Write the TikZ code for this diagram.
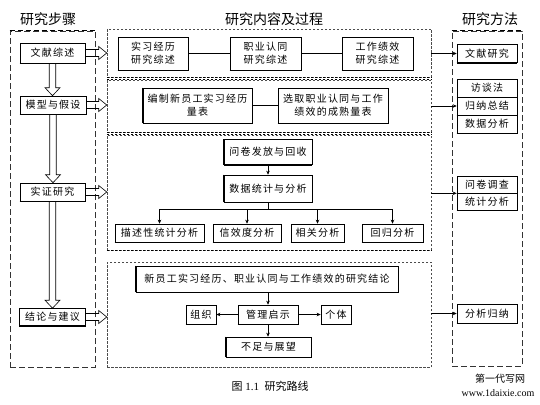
\documentclass[tikz,border=0pt]{standalone}
\usepackage{fontspec}
\setmainfont{Liberation Serif}
\newfontfamily\cjk[LetterSpace=12]{Noto Sans CJK SC}
\newfontfamily\cjkt{Noto Sans CJK SC}
\usetikzlibrary{calc,arrows.meta}
\begin{document}
\begin{tikzpicture}[x=1pt,y=-1pt,
  bx/.style={draw, line width=0.6pt, inner sep=0pt, align=center, font=\cjk\fontsize{10}{13}\selectfont, fill=white},
  sec/.style={draw=gray!60!black, dashed, dash pattern=on 2.5pt off 1.5pt, line width=0.5pt, inner sep=0pt},
  col/.style={draw=gray!40!black, dash pattern=on 6pt off 3pt, line width=0.6pt, inner sep=0pt},
  thk/.style={line width=1.4pt, dash pattern=on 2.5pt off 1.5pt},
  tit/.style={font=\cjkt\fontsize{14}{16}\selectfont},
  sarr/.style={-{Stealth[length=4pt,width=3.5pt]}, line width=0.6pt},
  hdown/.style={line width=0.6pt, to path={let \p1=(\tikztostart), \p2=(\tikztotarget) in
     (\x1-3.25pt,\y1) -- (\x1-3.25pt,\y2+8pt) -- (\x1-7.5pt,\y2+8pt) -- (\x1,\y2) -- (\x1+7.5pt,\y2+8pt) -- (\x1+3.25pt,\y2+8pt) -- (\x1+3.25pt,\y1)}},
  hright/.style={line width=0.6pt, to path={let \p1=(\tikztostart), \p2=(\tikztotarget) in
     (\x1,\y1+3.5pt) -- (\x2-8pt,\y1+3.5pt) -- (\x2-8pt,\y1+6.5pt) -- (\x2,\y1) -- (\x2-8pt,\y1-6.5pt) -- (\x2-8pt,\y1-3.5pt) -- (\x1,\y1-3.5pt)}}
]
\useasboundingbox[fill=white] (0,0) rectangle (540,404);

% titles
\node[tit] (t1) at (48,19) {研究步骤};
\node[tit] (t2) at (274,19) {研究内容及过程};
\node[tit] (t3) at (490,19) {研究方法};

% columns
\node[col, minimum width=85, minimum height=336] (L) at (52.5,199) {};
\node[col, minimum width=70, minimum height=335] (R) at (487,198.5) {};
\draw[line width=1.4pt, dash pattern=on 5pt off 3pt] (L.north west) -- (L.north east);
\draw[line width=1.4pt, dash pattern=on 5pt off 3pt] (R.north west) -- (R.north east);

% sections
\node[sec, minimum width=324, minimum height=48] (s1) at (269,53) {};
\node[sec, minimum width=324, minimum height=52] (s2) at (269,106) {};
\node[sec, minimum width=324, minimum height=115] (s3) at (269,192.5) {};
\node[sec, minimum width=324, minimum height=105] (s4) at (269,314.5) {};
\draw[thk] (s1.south west) -- (s1.south east);
\draw[thk] (s2.north west) -- (s2.north east);
\draw[thk] (s2.south west) -- (s2.south east);
\draw[thk] (s3.north west) -- (s3.north east);
\draw[thk] (s3.south west) -- (s3.south east);

% left boxes
\node[bx, minimum width=65, minimum height=20] (w1) at (52.5,53) {文献综述};
\node[bx, minimum width=66, minimum height=18] (w2) at (53,105) {模型与假设};
\node[bx, minimum width=65, minimum height=18] (w3) at (52.5,192) {实证研究};
\node[bx, minimum width=66, minimum height=17] (w4) at (52.5,317) {结论与建议};

% right boxes
\node[bx, minimum width=60, minimum height=18] (r1) at (487,53.5) {文献研究};
\node[bx, minimum width=60, minimum height=18] (r2a) at (487,88) {访谈法};
\node[bx, minimum width=60, minimum height=18] (r2b) at (487,106) {归纳总结};
\node[bx, minimum width=60, minimum height=18] (r2c) at (487,124) {数据分析};
\node[bx, minimum width=60, minimum height=17] (r3a) at (487,184.5) {问卷调查};
\node[bx, minimum width=60, minimum height=17] (r3b) at (487,201.5) {统计分析};
\node[bx, minimum width=60, minimum height=19] (r4) at (487,313.5) {分析归纳};

% section 1
\node[bx, minimum width=70, minimum height=33] (a1) at (153,53.5) {实习经历\\研究综述};
\node[bx, minimum width=71, minimum height=33] (a2) at (265.5,53.5) {职业认同\\研究综述};
\node[bx, minimum width=71, minimum height=33] (a3) at (377.5,53.5) {工作绩效\\研究综述};
\draw[line width=0.6pt] (a1) -- (a2);
\draw[line width=0.6pt] (a2) -- (a3);

% section 2
\node[bx, minimum width=109, minimum height=35] (b1) at (197.5,105.5) {编制新员工实习经历\\量表};
\node[bx, minimum width=110, minimum height=35] (b2) at (333,105.5) {选取职业认同与工作\\绩效的成熟量表};
\draw[line width=1.2pt] (b1) -- (b2);

% section 3
\node[bx, minimum width=88, minimum height=25] (c1) at (268,152) {问卷发放与回收};
\node[bx, minimum width=88, minimum height=27] (c2) at (268,188.5) {数据统计与分析};
\node[bx, minimum width=89, minimum height=18] (d1) at (159.5,233) {描述性统计分析};
\node[bx, minimum width=68, minimum height=18] (d2) at (247,233) {信效度分析};
\node[bx, minimum width=53, minimum height=18] (d3) at (317.5,233) {相关分析};
\node[bx, minimum width=61, minimum height=18] (d4) at (392.5,233) {回归分析};
\draw[sarr] (c1) -- (c2);
\coordinate (br) at (268,209);
\draw[line width=0.6pt] (c2.south) -- (br);
\draw[line width=0.6pt] (br -| d1.north) -- (br -| d4.north);
\foreach \d in {d1,d2,d3,d4} \draw[sarr] (br -| \d.north) -- (\d.north);

% section 4
\node[bx, minimum width=262, minimum height=26] (e1) at (267,279) {新员工实习经历、职业认同与工作绩效的研究结论};
\node[bx, minimum width=60, minimum height=19] (e2) at (268,314.5) {管理启示};
\node[bx, minimum width=30, minimum height=19] (e3) at (201,314.5) {组织};
\node[bx, minimum width=30, minimum height=19] (e4) at (336,314.5) {个体};
\node[bx, minimum width=85, minimum height=20] (e5) at (268.5,347) {不足与展望};
\draw[sarr] (e1.south -| e2) -- (e2);
\draw[sarr, line width=1.3pt] (e2) -- (e3);
\draw[sarr, line width=1.3pt] (e2) -- (e4);
\draw[sarr] (e2.south) -- (e2.south |- e5.north);

% thick bottoms
\foreach \n in {w1,w2,w3,w4,r1,r2a,r2b,r2c,r3a,r3b,r4,a1,a2,a3,b1,b2,c1,c2,d1,d2,d3,d4,e1,e2,e3,e4,e5}
  \draw[line width=1.4pt] (\n.south west) -- (\n.south east);
\foreach \n in {b1,c1,c2,e1,e5}
  \draw[line width=1.4pt] (\n.north west) -- (\n.south west);

% hollow arrows left column
\draw[hdown] (w1.south) to (w2.north);
\draw[hdown] (w2.south) to (w3.north);
\draw[hdown] (w3.south) to (w4.north);
\draw[hright] (w1.east) to (w1.east -| s1.west);
\draw[hright] (w2.east) to (w2.east -| s2.west);
\draw[hright] (w3.east) to (w3.east -| s3.west);
\draw[hright] (w4.east) to (w4.east -| s4.west);

% arrows to right column
\draw[sarr] (r1.west -| s1.east) -- (r1.west);
\draw[sarr] (r2b.west -| s2.east) -- (r2b.west);
\draw[sarr, line width=1.2pt] (r3a.south west -| s3.east) -- (r3a.south west);
\draw[sarr] (r4.west -| s4.east) -- (r4.west);

% caption and mark
\node[font=\fontsize{11}{13}\selectfont] (cap) at (270,386) {{\cjkt 图}\ 1.1\ \ {\cjkt 研究路线}};
\node[font=\cjkt\fontsize{10}{11}\selectfont] (wm1) at (500,379) {第一代写网};
\node[font=\fontsize{10}{11}\selectfont] (wm2) at (498,393) {www.1daixie.com};
\end{tikzpicture}
\end{document}
